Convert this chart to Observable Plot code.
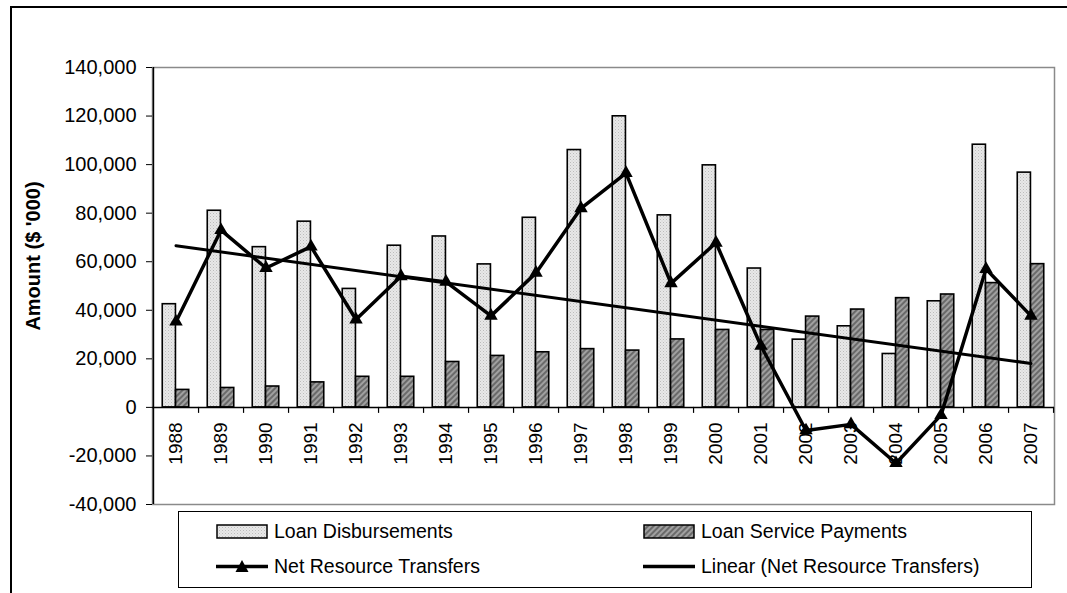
<!DOCTYPE html>
<html>
<head>
<meta charset="utf-8">
<script src="https://cdn.jsdelivr.net/npm/d3@7"></script>
<script src="https://cdn.jsdelivr.net/npm/@observablehq/plot@0.6"></script>
<style>
  html, body { margin: 0; padding: 0; background: #fff; }
  #wrap { position: relative; width: 1067px; height: 593px; overflow: hidden; font-family: "Liberation Sans", Arial, sans-serif; color: #000; }
  #outer { position: absolute; left: 10px; top: 6px; width: 1200px; height: 800px; border-left: 2px solid #000; border-top: 2px solid #000; }
  #chart { position: absolute; left: 0; top: 0; }
  #legend { position: absolute; left: 178px; top: 511px; width: 854px; height: 77px; box-sizing: border-box; border: 1px solid #000; background: #fff; }
  .item { position: absolute; height: 20px; display: flex; align-items: center; font-size: 19.5px; white-space: nowrap; }
  .item svg { margin-right: 6px; flex: none; }
</style>
</head>
<body>
<div id="wrap">
  <div id="outer"></div>
  <div id="chart"></div>
  <div id="legend"></div>
</div>
<script>
// ---- data ----
const years = ["1988","1989","1990","1991","1992","1993","1994","1995","1996","1997",
               "1998","1999","2000","2001","2002","2003","2004","2005","2006","2007"];
const loanDisbursements = [42500, 81000, 66000, 76500, 48800, 66600, 70400, 58900, 78100, 106000,
                           119900, 79100, 99700, 57200, 27900, 33400, 22000, 43700, 108200, 96700];
const loanServicePayments = [7200, 8000, 8600, 10300, 12600, 12600, 18700, 21200, 22700, 24000,
                             23400, 28000, 31900, 31900, 37400, 40300, 45000, 46500, 51200, 59000];
const netResourceTransfers = [35300, 73000, 57400, 66200, 36200, 54000, 51700, 37700, 55400, 82000,
                              96500, 51100, 67800, 25300, -9500, -7000, -23000, -3200, 57000, 37700];
// linear trend line end points
const trendYears = ["1988", "2007"];
const trendValues = [66600, 18100];
const yTicks = [-40000, -20000, 0, 20000, 40000, 60000, 80000, 100000, 120000, 140000];
const seriesNames = ["Loan Disbursements", "Loan Service Payments", "Net Resource Transfers", "Linear (Net Resource Transfers)"];
const yLabel = "Amount ($ '000)";

const fmt = d => d3.format(",")(d).replace("\u2212", "-");
const W = 1067, H = 510, mL = 152, mR = 13, mT = 67, mB = 6;
const bw = (W - mL - mR) / years.length;

const svg = Plot.plot({
  width: W, height: H,
  marginLeft: mL, marginRight: mR, marginTop: mT, marginBottom: mB,
  style: { fontFamily: "'Liberation Sans', Arial, sans-serif", fontSize: "20px", background: "transparent", overflow: "visible", color: "#000" },
  x: { type: "band", domain: years, padding: 0, axis: null },
  y: { domain: [-40000, 140000] },
  marks: [
    Plot.frame({ stroke: "#8a8a8a", strokeWidth: 1.5 }),
    Plot.barY(loanDisbursements, { x: years, y: d => d, fill: "url(#pLight)", stroke: "#000", strokeWidth: 1.6, insetLeft: bw / 2 - 13.3, insetRight: bw / 2 }),
    Plot.barY(loanServicePayments, { x: years, y: d => d, fill: "url(#pDark)", stroke: "#000", strokeWidth: 1.6, insetLeft: bw / 2, insetRight: bw / 2 - 13.3 }),
    Plot.ruleY([0], { stroke: "#000", strokeWidth: 1.5 }),
    Plot.ruleX(years, { x: d => d, dx: bw / 2, y1: 0, y2: -2470, stroke: "#000", strokeWidth: 1.2 }),
    Plot.ruleX([years[0]], { x: d => d, dx: -bw / 2, y1: -40000, y2: 140000, stroke: "#000", strokeWidth: 1.5 }),
    Plot.axisY({ ticks: yTicks, tickFormat: fmt, tickSize: 6, tickPadding: 10, label: null, fontSize: 20 }),
    Plot.text(years, { x: d => d, y: 0, text: d => d, rotate: -90, textAnchor: "end", dy: 15, fontSize: 19 }),
    Plot.text([yLabel], { frameAnchor: "left", text: d => d, rotate: -90, textAnchor: "middle", dx: -119, dy: -30, fontWeight: "bold", fontSize: 20 }),
    Plot.line(trendValues, { x: trendYears, y: d => d, stroke: "#000", strokeWidth: 3 }),
    Plot.line(netResourceTransfers, { x: years, y: d => d, stroke: "#000", strokeWidth: 3.5 }),
    Plot.dot(netResourceTransfers, { x: years, y: d => d, symbol: "triangle", fill: "#000", stroke: "none", r: 5 })
  ]
});

d3.select(svg).insert("defs", ":first-child").html(`
  <pattern id="pLight" width="3" height="3" patternUnits="userSpaceOnUse">
    <rect width="3" height="3" fill="#e8e8e8"/>
    <rect width="1" height="1" fill="#bcbcbc"/>
    <rect x="1.5" y="1.5" width="1" height="1" fill="#cfcfcf"/>
  </pattern>
  <pattern id="pDark" width="4" height="4" patternUnits="userSpaceOnUse" patternTransform="rotate(45)">
    <rect width="4" height="4" fill="#a0a0a0"/>
    <rect width="2" height="4" fill="#6a6a6a"/>
  </pattern>`);
document.getElementById("chart").appendChild(svg);

// ---- legend ----
const legend = document.getElementById("legend");
function swatch(kind) {
  if (kind === "light" || kind === "dark") {
    return `<svg width="52" height="15"><rect x="1" y="1" width="50" height="13" fill="url(#${kind === "light" ? "pLight" : "pDark"})" stroke="#000" stroke-width="1.5"/></svg>`;
  }
  const tri = kind === "marker" ? `<path d="M26,1 L32.5,13 L19.5,13 Z" fill="#000"/>` : "";
  return `<svg width="52" height="15"><line x1="0" x2="52" y1="7.5" y2="7.5" stroke="#000" stroke-width="3.5"/>${tri}</svg>`;
}
const items = [
  { name: seriesNames[0], kind: "light", left: 37, top: 9 },
  { name: seriesNames[1], kind: "dark", left: 464, top: 9 },
  { name: seriesNames[2], kind: "marker", left: 37, top: 44 },
  { name: seriesNames[3], kind: "line", left: 464, top: 44 }
];
for (const it of items) {
  const div = document.createElement("div");
  div.className = "item";
  div.style.left = it.left + "px";
  div.style.top = it.top + "px";
  div.innerHTML = swatch(it.kind) + `<span>${it.name}</span>`;
  legend.appendChild(div);
}
</script>
</body>
</html>
